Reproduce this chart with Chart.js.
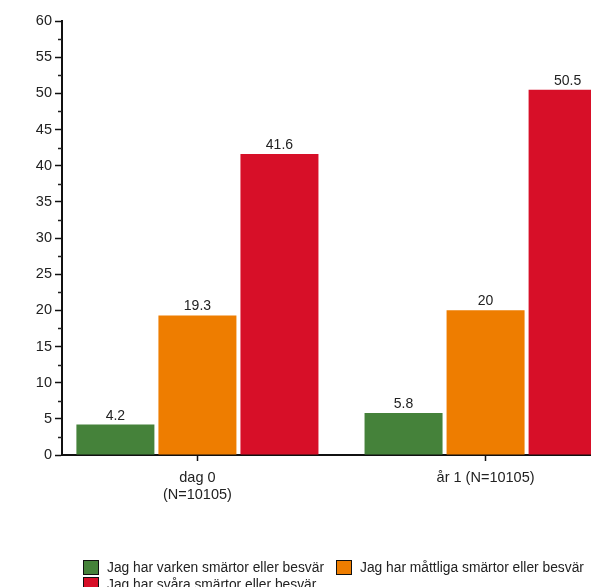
<!DOCTYPE html>
<html>
<head>
<meta charset="utf-8">
<script src="https://cdn.jsdelivr.net/npm/chart.js@4/dist/chart.umd.min.js"></script>
<style>
  html, body { margin: 0; padding: 0; background: #fff; overflow: hidden; width: 591px; height: 587px; }
  #wrap { position: relative; width: 640px; height: 587px; }
  #chart { position: absolute; left: 0; top: 0; }
  #legend {
    position: absolute; left: 83px; top: 559px; width: 520px;
    display: flex; flex-wrap: wrap; column-gap: 12px; row-gap: 1px;
    font: 13.8px "Liberation Sans", Arial, sans-serif; color: #222;
  }
  .item { display: flex; align-items: center; height: 16px; white-space: nowrap; }
  .box { width: 14px; height: 13px; border: 1.5px solid #111; margin-right: 8px; }
</style>
</head>
<body>
<div id="wrap">
  <canvas id="chart" width="640" height="587"></canvas>
  <div id="legend"></div>
</div>
<script>
// Time points on the x axis (multi-line labels as arrays)
const categories = [["dag 0", "(N=10105)"], "år 1 (N=10105)"];
// Answer groups
const seriesNames = [
  "Jag har varken smärtor eller besvär",
  "Jag har måttliga smärtor eller besvär",
  "Jag har svåra smärtor eller besvär"
];
const seriesColors = ["#45823A", "#EE7D00", "#D70F28"];
// Percentages per time point
const noPain = [4.2, 5.8];
const moderatePain = [19.3, 20];
const severePain = [41.6, 50.5];
// Y axis ticks
const yTicks = [0, 5, 10, 15, 20, 25, 30, 35, 40, 45, 50, 55, 60];

const seriesValues = [noPain, moderatePain, severePain];
const family = "'Liberation Sans', Arial, sans-serif";

const datasets = seriesValues.map((vals, s) => ({
  label: seriesNames[s],
  data: vals.map((v, i) => ({ x: i, y: v })),
  backgroundColor: seriesColors[s],
  borderWidth: 0,
  categoryPercentage: 0.854,
  barPercentage: 0.951
}));

// Value text above every bar
const valueLabels = {
  id: 'valueLabels',
  afterDatasetsDraw(chart) {
    const ctx = chart.ctx;
    ctx.save();
    ctx.font = `14px ${family}`;
    ctx.fillStyle = '#222';
    ctx.textAlign = 'center';
    ctx.textBaseline = 'alphabetic';
    chart.data.datasets.forEach((ds, di) => {
      chart.getDatasetMeta(di).data.forEach((bar, i) => {
        ctx.fillText(String(ds.data[i].y), bar.x, bar.y - 5);
      });
    });
    ctx.restore();
  }
};

// Short unlabelled ticks halfway between the labelled y ticks
const minorTicks = {
  id: 'minorTicks',
  afterDraw(chart) {
    const y = chart.scales.y;
    const ctx = chart.ctx;
    const left = chart.chartArea.left;
    ctx.save();
    ctx.strokeStyle = '#222';
    ctx.lineWidth = 1.5;
    for (let i = 0; i < yTicks.length - 1; i++) {
      const v = (yTicks[i] + yTicks[i + 1]) / 2;
      const py = Math.round(y.getPixelForValue(v)) + 0.5;
      ctx.beginPath();
      ctx.moveTo(left - 4, py);
      ctx.lineTo(left, py);
      ctx.stroke();
    }
    ctx.restore();
  }
};

new Chart(document.getElementById('chart'), {
  type: 'bar',
  data: { datasets },
  plugins: [valueLabels, minorTicks],
  options: {
    responsive: false,
    animation: false,
    layout: { padding: { top: 21, right: 19, bottom: 82, left: 0 } },
    plugins: { legend: { display: false }, tooltip: { enabled: false } },
    scales: {
      x: {
        type: 'linear',
        min: -0.47,
        max: 1.47,
        offset: false,
        afterBuildTicks(scale) { scale.ticks = categories.map((c, i) => ({ value: i })); },
        afterFit(scale) { scale.height = 50; },
        ticks: {
          callback: (v) => categories[v],
          autoSkip: false,
          maxRotation: 0,
          font: { family, size: 14.5, lineHeight: 1.17 },
          color: '#222',
          padding: 9
        },
        grid: { offset: false, drawOnChartArea: false, drawTicks: true, tickLength: 6, tickColor: '#111', tickWidth: 1.5 },
        border: { color: '#111', width: 2 }
      },
      y: {
        min: 0,
        max: 60,
        afterBuildTicks(scale) { scale.ticks = yTicks.map(v => ({ value: v })); },
        afterFit(scale) { scale.width = 62; },
        ticks: { font: { family, size: 14.5 }, color: '#222', padding: 3 },
        grid: { drawOnChartArea: false, drawTicks: true, tickLength: 7, tickColor: '#111', tickWidth: 1.5 },
        border: { color: '#111', width: 2 }
      }
    }
  }
});

// Legend built from the series names and colours
const legend = document.getElementById('legend');
seriesNames.forEach((name, s) => {
  const item = document.createElement('div');
  item.className = 'item';
  const box = document.createElement('span');
  box.className = 'box';
  box.style.background = seriesColors[s];
  item.appendChild(box);
  item.appendChild(document.createTextNode(name));
  legend.appendChild(item);
});
</script>
</body>
</html>
